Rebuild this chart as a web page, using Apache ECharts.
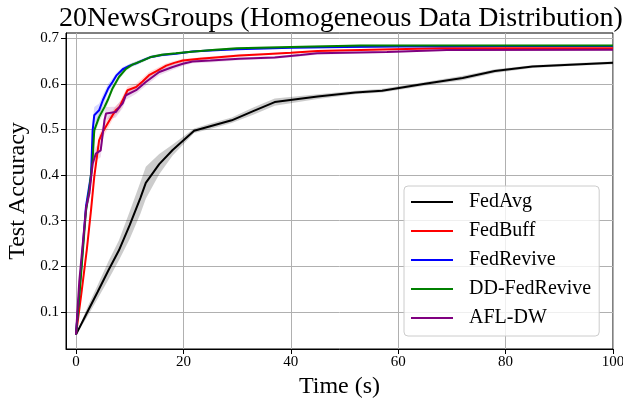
<!DOCTYPE html>
<html><head><meta charset="utf-8">
<script src="https://cdn.jsdelivr.net/npm/echarts@6/dist/echarts.min.js"></script>
<style>html,body{margin:0;padding:0;background:#fff}#c{width:623px;height:402px}</style>
</head><body><div id="c"></div>
<script>
// ---- data ----
const seriesNames = ['FedAvg','FedBuff','FedRevive','DD-FedRevive','AFL-DW'];
const xTicks = [0,20,40,60,80,100];
const yTicks = [0.1,0.2,0.3,0.4,0.5,0.6,0.7];

const tFedAvg = [0,2,4,6,8,10,12,13,15.5,18,22,25,29,33,37,45,52,57,65,72,78,85,92,100];
const vFedAvg = [0.05,0.097,0.143,0.19,0.235,0.29,0.35,0.383,0.424,0.455,0.497,0.507,0.52,0.54,0.56,0.572,0.581,0.585,0.6,0.613,0.628,0.638,0.642,0.646];
const sFedAvg = [0,0.01,0.015,0.02,0.022,0.03,0.035,0.035,0.022,0.012,0.005,0.006,0.006,0.008,0.008,0.005,0.004,0.004,0.004,0.005,0.004,0.003,0.003,0.003];

const tFedBuff = [0,1,2,2.8,3.4,4.3,5,5.9,6.8,7.4,8.1,8.7,9.6,11.2,12.4,13.6,15,16.8,18.3,19.9,23,26,30.4,35,40,45,55,68,100];
const vFedBuff = [0.05,0.14,0.235,0.323,0.396,0.476,0.495,0.513,0.531,0.542,0.549,0.564,0.586,0.593,0.605,0.619,0.628,0.64,0.646,0.651,0.655,0.658,0.662,0.665,0.668,0.672,0.675,0.678,0.678];
const sFedBuff = [0,0.01,0.012,0.012,0.012,0.012,0.012,0.012,0.01,0.01,0.01,0.01,0.008,0.008,0.008,0.007,0.006,0.005,0.004,0.004,0.003,0.003,0.003,0.002,0.002,0.002,0.002,0.002,0.002];

const tFedRevive = [0,1,1.85,2.4,2.8,3.1,3.4,4.3,5,6,6.8,7.5,8.7,10,11.2,12.5,14,16,18.6,21.7,25,30,40,50,60,80,100];
const vFedRevive = [0.05,0.2,0.33,0.37,0.4,0.498,0.531,0.542,0.564,0.59,0.604,0.618,0.632,0.64,0.645,0.652,0.659,0.663,0.666,0.671,0.673,0.676,0.679,0.681,0.682,0.683,0.683];
const sFedRevive = [0,0.01,0.015,0.02,0.02,0.02,0.018,0.015,0.012,0.01,0.008,0.006,0.005,0.004,0.004,0.003,0.003,0.003,0.002,0.002,0.002,0.002,0.002,0.002,0.002,0.002,0.002];

const tDDFedRevive = [0,1,1.85,2.5,3.1,3.4,4.3,5.3,5.9,6.8,8,9.3,10.5,12.4,14,16,18.6,22,26,30,40,53,70,100];
const vDDFedRevive = [0.05,0.19,0.32,0.37,0.433,0.498,0.527,0.549,0.564,0.59,0.615,0.633,0.642,0.651,0.659,0.664,0.667,0.671,0.675,0.678,0.681,0.684,0.684,0.684];
const sDDFedRevive = [0,0.008,0.01,0.012,0.012,0.012,0.01,0.01,0.008,0.007,0.006,0.005,0.004,0.004,0.003,0.003,0.002,0.002,0.002,0.002,0.002,0.002,0.002,0.002];

const tAFLDW = [0,0.6,1.9,2.5,3.1,3.7,4.6,5.3,5.6,7.4,8.1,8.7,9.3,11.2,13,15.5,18,19.9,21.7,25,30.4,37,41.8,44.9,57.9,69,100];
const vAFLDW = [0.05,0.165,0.33,0.36,0.425,0.447,0.454,0.52,0.535,0.538,0.549,0.557,0.575,0.586,0.604,0.626,0.637,0.644,0.649,0.651,0.655,0.658,0.663,0.667,0.67,0.674,0.675];
const sAFLDW = [0,0.01,0.012,0.015,0.015,0.015,0.015,0.015,0.014,0.012,0.012,0.01,0.01,0.008,0.008,0.007,0.006,0.005,0.004,0.004,0.003,0.003,0.003,0.003,0.002,0.002,0.002];

const colors = ['#000000','#ff0000','#0000ff','#008000','#800080'];
const bandColors = ['rgba(0,0,0,0.2)','rgba(255,0,0,0.15)','rgba(0,0,255,0.15)','rgba(0,128,0,0.15)','rgba(128,0,128,0.15)'];

const allT = [tFedAvg,tFedBuff,tFedRevive,tDDFedRevive,tAFLDW];
const allV = [vFedAvg,vFedBuff,vFedRevive,vDDFedRevive,vAFLDW];
const allS = [sFedAvg,sFedBuff,sFedRevive,sDDFedRevive,sAFLDW];

const FONT = 'Liberation Serif';
const series = [];
allT.forEach((T,i)=>{
  const V = allV[i], S = allS[i];
  const bandData = T.map((t,k)=>[t, V[k]-S[k], V[k]+S[k]]);
  series.push({type:'custom', silent:true, z:1, clip:true,
    data:bandData, encode:{x:0, y:[1,2]},
    renderItem:(params, api)=>{
      if (params.dataIndex !== 0) return null;
      const up = bandData.map(d=>api.coord([d[0], d[2]]));
      const lo = bandData.map(d=>api.coord([d[0], d[1]])).reverse();
      return {type:'polygon', shape:{points:up.concat(lo)}, style:{fill:bandColors[i]}};
    }});
});
allT.forEach((T,i)=>{
  series.push({type:'line', name:seriesNames[i], symbol:'none', z:3,
    data:T.map((t,k)=>[t, allV[i][k]]),
    lineStyle:{color:colors[i], width:2}, itemStyle:{color:colors[i]}});
});

const chart = echarts.init(document.getElementById('c'), null, {renderer:'canvas'});
chart.setOption({
  animation:false,
  backgroundColor:'#ffffff',
  title:{text:'20NewsGroups (Homogeneous Data Distribution)', left:336, textAlign:'center', top:0,
    textStyle:{fontFamily:FONT, fontSize:28, fontWeight:'normal', color:'#000'}},
  grid:{left:66, right:10, top:33, bottom:53, show:true, borderColor:'#000', borderWidth:1,
    backgroundColor:'transparent', outerBoundsMode:'none', containLabel:false},
  legend:{data:seriesNames.map(n=>({name:n, icon:'rect'})), left:404, top:186, orient:'vertical',
    itemWidth:42, itemHeight:2, itemGap:9, padding:[6,8,8,7],
    backgroundColor:'rgba(255,255,255,0.8)', borderColor:'#cccccc', borderWidth:1, borderRadius:4,
    textStyle:{fontFamily:FONT, fontSize:20, color:'#000', lineHeight:20, padding:[0,0,0,11]}},
  xAxis:{type:'value', min:-1.86, max:100,
    name:'Time (s)', nameLocation:'middle', nameGap:22,
    nameTextStyle:{fontFamily:FONT, fontSize:24, color:'#000'},
    axisLine:{show:true, onZero:false, lineStyle:{color:'#000', width:1}},
    axisTick:{show:true, inside:false, length:5, customValues:xTicks, lineStyle:{color:'#000'}},
    axisLabel:{customValues:xTicks, fontFamily:FONT, fontSize:15, color:'#000', margin:6},
    splitLine:{show:true, lineStyle:{color:'#b0b0b0', width:1}}},
  yAxis:{type:'value', min:0.0185, max:0.7115,
    name:'Test Accuracy', nameLocation:'middle', nameGap:36,
    nameTextStyle:{fontFamily:FONT, fontSize:24, color:'#000'},
    axisLine:{show:true, onZero:false, lineStyle:{color:'#000', width:1}},
    axisTick:{show:true, inside:false, length:5, customValues:yTicks, lineStyle:{color:'#000'}},
    axisLabel:{customValues:yTicks, fontFamily:FONT, fontSize:15, color:'#000', margin:7,
      formatter:v=>v.toFixed(1)},
    splitLine:{show:true, lineStyle:{color:'#b0b0b0', width:1}}},
  series:series
});
</script></body></html>
